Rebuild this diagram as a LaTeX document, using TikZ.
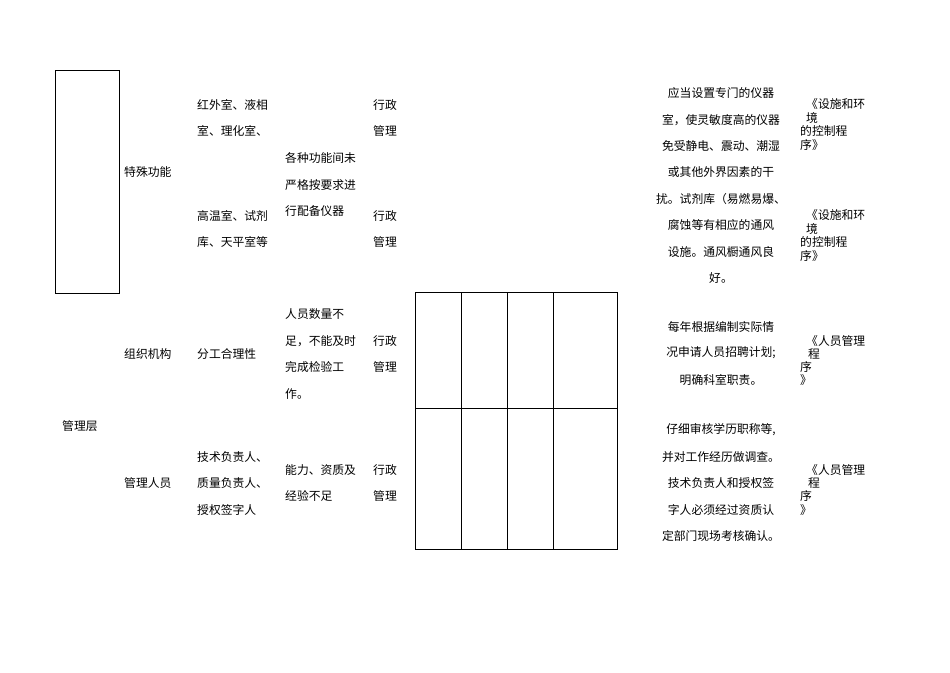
\documentclass[tikz,border=0pt]{standalone}
\usepackage{fontspec}
\setmainfont{Noto Sans CJK SC}
\begin{document}
\begin{tikzpicture}[x=1pt,y=-1pt,
  t/.style={anchor=west,inner sep=0pt,font=\fontsize{11.8}{12}\selectfont},
  c/.style={anchor=center,inner sep=0pt,font=\fontsize{11.8}{12}\selectfont},
  ln/.style={line width=0.8pt}]
\useasboundingbox (0,0) rectangle (950,672);
% left box
\draw[ln] (55,70) rectangle (119,293);
% grid
\draw[ln] (415,292) rectangle (617,549);
\draw[ln] (415,408) -- (617,408);
\foreach \x in {461,507,553} \draw[ln] (\x,292) -- (\x,549);
% texts
\node[t] (a1) at (197,105) {红外室、液相};
\node[t] (a2) at (197,131) {室、理化室、};
\node[t] (a3) at (124,172) {特殊功能};
\node[t] (a4) at (285,158) {各种功能间未};
\node[t] (a5) at (285,185) {严格按要求进};
\node[t] (a6) at (285,211) {行配备仪器};
\node[t] (a7) at (373,105) {行政};
\node[t] (a8) at (373,131) {管理};
\node[t] (a9) at (197,216) {高温室、试剂};
\node[t] (a10) at (197,242) {库、天平室等};
\node[t] (a11) at (373,216) {行政};
\node[t] (a12) at (373,242) {管理};
\node[t] (b1) at (285,314) {人员数量不};
\node[t] (b2) at (285,341) {足，不能及时};
\node[t] (b3) at (285,367) {完成检验工};
\node[t] (b4) at (285,394) {作。};
\node[t] (b5) at (124,354) {组织机构};
\node[t] (b6) at (197,354) {分工合理性};
\node[t] (b7) at (373,341) {行政};
\node[t] (b8) at (373,367) {管理};
\node[t] (b9) at (62,426) {管理层};
\node[t] (c1) at (197,457) {技术负责人、};
\node[t] (c2) at (197,483) {质量负责人、};
\node[t] (c3) at (197,510) {授权签字人};
\node[t] (c4) at (124,483) {管理人员};
\node[t] (c5) at (285,470) {能力、资质及};
\node[t] (c6) at (285,496) {经验不足};
\node[t] (c7) at (373,470) {行政};
\node[t] (c8) at (373,496) {管理};
% right column
\node[c] (r1) at (721,93) {应当设置专门的仪器};
\node[c] (r2) at (721,120) {室，使灵敏度高的仪器};
\node[c] (r3) at (721,146) {免受静电、震动、潮湿};
\node[c] (r4) at (721,172) {或其他外界因素的干};
\node[c] (r5) at (721,199) {扰。试剂库（易燃易爆、};
\node[c] (r6) at (721,225) {腐蚀等有相应的通风};
\node[c] (r7) at (721,252) {设施。通风橱通风良};
\node[c] (r8) at (721,278) {好。};
\node[c] (s1) at (721,327) {每年根据编制实际情};
\node[c] (s2) at (721,353) {况申请人员招聘计划;};
\node[c] (s3) at (721,380) {明确科室职责。};
\node[c] (u1) at (721,430) {仔细审核学历职称等,};
\node[c] (u2) at (721,457) {并对工作经历做调查。};
\node[c] (u3) at (721,483) {技术负责人和授权签};
\node[c] (u4) at (721,510) {字人必须经过资质认};
\node[c] (u5) at (721,536) {定部门现场考核确认。};
% references
\node[t] (p1) at (806,104) {《设施和环};
\node[t] (p2) at (806,118) {境};
\node[t] (p3) at (800,131) {的控制程};
\node[t] (p4) at (800,145) {序》};
\node[t] (q1) at (806,215) {《设施和环};
\node[t] (q2) at (806,229) {境};
\node[t] (q3) at (800,242) {的控制程};
\node[t] (q4) at (800,256) {序》};
\node[t] (v1) at (806,341) {《人员管理};
\node[t] (v2) at (808,354) {程};
\node[t] (v3) at (800,367) {序};
\node[t] (v4) at (800,380) {》};
\node[t] (w1) at (806,470) {《人员管理};
\node[t] (w2) at (808,483) {程};
\node[t] (w3) at (800,496) {序};
\node[t] (w4) at (800,510) {》};
\end{tikzpicture}
\end{document}
